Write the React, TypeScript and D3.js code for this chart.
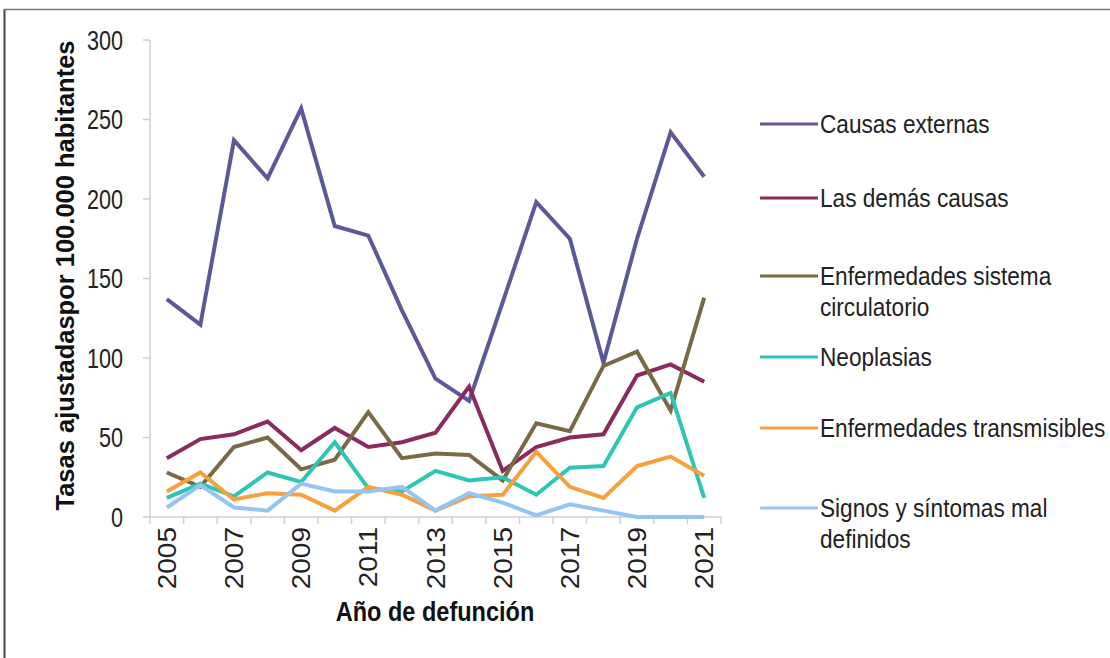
import * as d3 from "d3"

const years = d3.range(2005, 2022).map(String)
const yTicks = [0, 50, 100, 150, 200, 250, 300]

const causasExternas = [137, 121, 237, 213, 257, 183, 177, 130, 87, 73, 135, 198, 175, 97, 175, 242, 214]
const demasCausas = [37, 49, 52, 60, 42, 56, 44, 47, 53, 82, 29, 44, 50, 52, 89, 96, 85]
const circulatorio = [28, 19, 44, 50, 30, 36, 66, 37, 40, 39, 23, 59, 54, 95, 104, 67, 138]
const neoplasias = [12, 21, 13, 28, 22, 47, 18, 16, 29, 23, 25, 14, 31, 32, 69, 78, 12]
const transmisibles = [16, 28, 11, 15, 14, 4, 19, 14, 4, 13, 14, 41, 19, 12, 32, 38, 26]
const signos = [6, 20, 6, 4, 21, 16, 16, 19, 4, 15, 9, 1, 8, 4, 0, 0, 0]

const series = [
  { name: ["Causas externas"], values: causasExternas, color: "#5b5a98" },
  { name: ["Las demás causas"], values: demasCausas, color: "#8a2a5e" },
  { name: ["Enfermedades sistema", "circulatorio"], values: circulatorio, color: "#796a45" },
  { name: ["Neoplasias"], values: neoplasias, color: "#2ec4b6" },
  { name: ["Enfermedades transmisibles"], values: transmisibles, color: "#f7a03c" },
  { name: ["Signos y síntomas mal", "definidos"], values: signos, color: "#93c4f2" },
]
const legendY = [124, 198, 276, 357, 428, 508]

const W = 1110
const H = 658
const left = 150
const right = 721
const top = 40
const bottom = 517
const font = "'Liberation Sans', Arial, sans-serif"
const squeeze = 0.86 // horizontal text in the picture is condensed

export default function App() {
  const x = d3.scaleBand().domain(years).range([left, right])
  const y = d3.scaleLinear().domain([0, 300]).range([bottom, top])
  const line = d3
    .line<number>()
    .x((_, i) => (x(years[i]) || 0) + x.bandwidth() / 2)
    .y((v) => y(v))

  return (
    <svg
      width={W}
      height={H}
      style={{ position: "absolute", left: 0, top: 0, background: "#fff" }}
      fontFamily={font}
    >
      {/* frame */}
      <line x1={4.5} x2={4.5} y1={9} y2={H} stroke="#444" strokeWidth={2} />
      <line x1={4} x2={W} y1={9.5} y2={9.5} stroke="#777" strokeWidth={1.5} />

      {/* y axis */}
      <line x1={left} x2={left} y1={top} y2={bottom} stroke="#cfcfcf" strokeWidth={1.5} />
      {yTicks.map((t) => (
        <g key={t}>
          <line x1={left - 7} x2={left} y1={y(t)} y2={y(t)} stroke="#cfcfcf" strokeWidth={1.5} />
          <text
            transform={`translate(${left - 27},${y(t)}) scale(${squeeze - 0.06},1)`}
            dy="0.36em"
            textAnchor="end"
            fontSize={27}
            fill="#222"
          >
            {t}
          </text>
        </g>
      ))}
      <text
        transform={`translate(74,${(top + bottom) / 2 - 3}) rotate(-90)`}
        textAnchor="middle"
        fontSize={25.5}
        fontWeight={700}
        fill="#111"
      >
        Tasas ajustadaspor 100.000 habitantes
      </text>

      {/* x axis */}
      <line x1={left} x2={right} y1={bottom} y2={bottom} stroke="#cfcfcf" strokeWidth={1.5} />
      {years.map((yr) => (
        <line
          key={yr}
          x1={x(yr)}
          x2={x(yr)}
          y1={bottom}
          y2={bottom + 7}
          stroke="#cfcfcf"
          strokeWidth={1.5}
        />
      ))}
      <line x1={right} x2={right} y1={bottom} y2={bottom + 7} stroke="#cfcfcf" strokeWidth={1.5} />
      {years
        .filter((_, i) => i % 2 === 0)
        .map((yr) => {
          const cx = (x(yr) || 0) + x.bandwidth() / 2
          return (
            <text
              key={yr}
              transform={`translate(${cx},${bottom + 10}) rotate(-90) scale(1,0.9)`}
              textAnchor="end"
              dy="0.36em"
              fontSize={28}
              fill="#222"
            >
              {yr}
            </text>
          )
        })}
      <text
        transform={`translate(435,621) scale(0.84,1)`}
        textAnchor="middle"
        fontSize={28}
        fontWeight={700}
        fill="#111"
      >
        Año de defunción
      </text>

      {/* lines */}
      {series.map((s) => (
        <path
          key={s.name[0]}
          d={line(s.values) || ""}
          fill="none"
          stroke={s.color}
          strokeWidth={4}
          strokeLinejoin="miter"
        />
      ))}

      {/* legend */}
      {series.map((s, i) => (
        <g key={s.name[0]}>
          <line x1={760} x2={818} y1={legendY[i]} y2={legendY[i]} stroke={s.color} strokeWidth={3} />
          {s.name.map((n, j) => (
            <text
              key={n}
              transform={`translate(820,${legendY[i] + j * 31}) scale(0.87,1)`}
              dy="0.36em"
              fontSize={26}
              fill="#222"
            >
              {n}
            </text>
          ))}
        </g>
      ))}
    </svg>
  )
}
